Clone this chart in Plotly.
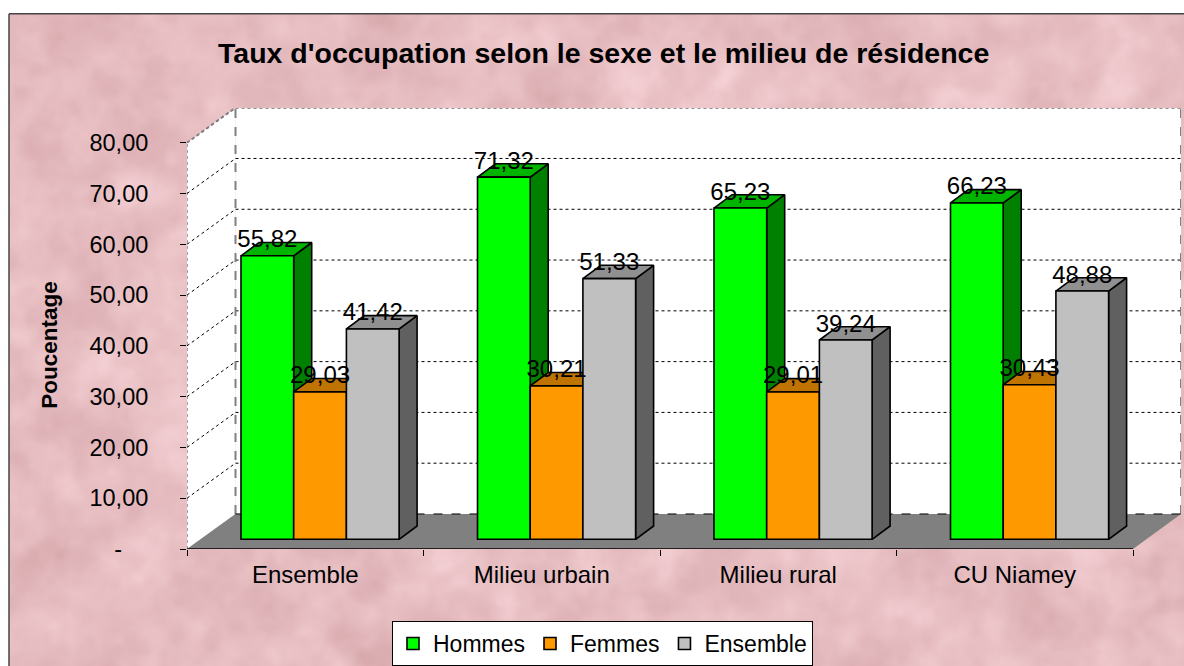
import base64, struct, zlib
import numpy as np
import plotly.graph_objects as go

CATEGORIES = ["Ensemble", "Milieu urbain", "Milieu rural", "CU Niamey"]
SERIES = ["Hommes", "Femmes", "Ensemble"]
HOMMES = [55.82, 71.32, 65.23, 66.23]
FEMMES = [29.03, 30.21, 29.01, 30.43]
ENSEMBLE = [41.42, 51.33, 39.24, 48.88]
Y_TICKS = [0, 10, 20, 30, 40, 50, 60, 70, 80]
Y_LABELS = ["-\u00a0\u00a0\u00a0\u00a0", "10,00", "20,00", "30,00", "40,00", "50,00", "60,00", "70,00", "80,00"]
FRONT = ["#00ff00", "#ff9900", "#c0c0c0"]
TOP = ["#00b400", "#bf7300", "#909090"]
SIDE = ["#008000", "#804d00", "#606060"]

# layout in pixels of the 1184x666 picture
W, H = 1184, 666
PL, PR, PT, PB = 187, 1181, 108.3, 549
CAT_PX, UNIT_PX = 236.5, 5.075
XMIN, XMAX = -0.5, -0.5 + (PR - PL) / CAT_PX
YMAX = (PB - PT) / UNIT_PX
WALL_DX, WALL_DY = 48.5 / CAT_PX, 35 / UNIT_PX
BAR_W = 52.7 / CAT_PX
BAR_START = 54 / CAT_PX
BASE = 9.7 / UNIT_PX
DEPTH_X, DEPTH_Y = 18 / CAT_PX, 13.3 / UNIT_PX
FONT = "Liberation Sans, Arial, sans-serif"


def px(x):
    return (x - PL) / (PR - PL)


def py(y):
    return (PB - y) / (PB - PT)


def texture_uri(w, h):
    """Decorative mottled paper background (not chart data): a hash field smoothed in the frequency domain."""
    yy, xx = np.mgrid[0:h, 0:w].astype(float)
    grain = np.modf(np.abs(np.sin(xx * 12.9898 + yy * 78.233 + xx * yy * 0.3713)) * 43758.5453)[0]
    spec = np.fft.fft2(grain - grain.mean())
    fy = np.fft.fftfreq(h)[:, None]
    fx = np.fft.fftfreq(w)[None, :]
    t = np.zeros((h, w))
    for sigma, weight in ((1.5, 0.35), (4.0, 0.7), (10.0, 0.8)):
        g = np.fft.ifft2(spec * np.exp(-2 * (np.pi * sigma) ** 2 * (fx ** 2 + fy ** 2))).real
        t += weight * g / g.std()
    t /= t.std()
    rgb = np.stack([231 + 4 * t, 190 + 5.5 * t, 194 + 5.5 * t], axis=-1).clip(0, 255).astype(np.uint8)
    raw = b"".join(b"\x00" + rgb[i].tobytes() for i in range(h))

    def chunk(tag, data):
        c = struct.pack(">I", len(data)) + tag + data
        return c + struct.pack(">I", zlib.crc32(tag + data) & 0xffffffff)

    png = b"\x89PNG\r\n\x1a\n" + chunk(b"IHDR", struct.pack(">IIBBBBB", w, h, 8, 2, 0, 0, 0)) \
        + chunk(b"IDAT", zlib.compress(raw, 9)) + chunk(b"IEND", b"")
    return "data:image/png;base64," + base64.b64encode(png).decode()


fig = go.Figure()
shapes = []


def poly(xs, ys, fill, line=None):
    path = "M" + " L".join(f"{x},{y}" for x, y in zip(xs, ys)) + " Z"
    shapes.append(dict(type="path", path=path, xref="x", yref="y", fillcolor=fill,
                       line=dict(width=0) if line is None else line, layer="below"))


def seg(x0, y0, x1, y1, color, width, dash):
    shapes.append(dict(type="line", x0=x0, y0=y0, x1=x1, y1=y1, xref="x", yref="y",
                       line=dict(color=color, width=width, dash=dash), layer="below"))


XEND = XMIN + len(CATEGORIES)
poly([XMIN + WALL_DX, XMAX, XMAX, XMIN + WALL_DX], [WALL_DY, WALL_DY, YMAX, YMAX], "#ffffff")
poly([XMIN, XMIN + WALL_DX, XMIN + WALL_DX, XMIN], [0, WALL_DY, YMAX, 80], "#ffffff")
poly([XMIN, XEND, XMAX, XMIN + WALL_DX], [0, 0, WALL_DY, WALL_DY], "#808080")
for v in Y_TICKS[1:]:
    seg(XMIN, v, XMIN + WALL_DX, v + WALL_DY, "#000000", 1, "dot")
    seg(XMIN + WALL_DX, v + WALL_DY, XMAX, v + WALL_DY, "#000000", 1, "dot")
seg(XMIN + WALL_DX, 80 + WALL_DY, XMAX, 80 + WALL_DY, "#808080", 2, "dot")
seg(XMIN, 80, XMIN + WALL_DX, 80 + WALL_DY, "#808080", 2, "dot")
seg(XMIN + WALL_DX, WALL_DY, XMIN + WALL_DX, YMAX, "#808080", 2, "dash")
seg(XMAX, WALL_DY, XMAX, YMAX, "#808080", 2, "dash")
seg(XMIN + WALL_DX, WALL_DY, XMAX, WALL_DY, "#000000", 1, "dash")
seg(XMIN, 0, XMIN, 80, "#444444", 1, "dot")
seg(XMIN, 0, XEND, 0, "#000000", 1.5, "solid")

ALL = [HOMMES, FEMMES, ENSEMBLE]
for s, (name, vals) in enumerate(zip(SERIES, ALL)):
    lefts = [XMIN + i + BAR_START + s * BAR_W for i in range(len(vals))]
    sx, sy, tx, ty = [], [], [], []
    for l, v in zip(lefts, vals):
        r = l + BAR_W
        top = BASE + v
        sx += [r, r + DEPTH_X, r + DEPTH_X, r, r, None]
        sy += [BASE, BASE + DEPTH_Y, top + DEPTH_Y, top, BASE, None]
        tx += [l, l + DEPTH_X, r + DEPTH_X, r, l, None]
        ty += [top, top + DEPTH_Y, top + DEPTH_Y, top, top, None]
    edge = dict(color="#000000", width=1.6)
    fig.add_trace(go.Scatter(x=sx, y=sy, mode="lines", fill="toself", fillcolor=SIDE[s], line=edge,
                             showlegend=False, hoverinfo="skip", zorder=2 * s + 1))
    fig.add_trace(go.Scatter(x=tx, y=ty, mode="lines", fill="toself", fillcolor=TOP[s], line=edge,
                             showlegend=False, hoverinfo="skip", zorder=2 * s + 1))
    fig.add_trace(go.Bar(x=[l + BAR_W / 2 for l in lefts], y=vals, base=BASE, width=BAR_W, name=name,
                         marker=dict(color=FRONT[s], line=dict(color="#000000", width=1.6)),
                         zorder=2 * s + 2))
for s, vals in enumerate(ALL):
    lefts = [XMIN + i + BAR_START + s * BAR_W for i in range(len(vals))]
    fig.add_trace(go.Scatter(x=[l + BAR_W / 2 for l in lefts], y=[BASE + v + 14.5 / UNIT_PX for v in vals],
                             mode="text", text=[f"{v:.2f}".replace(".", ",") for v in vals],
                             textposition="middle center", textfont=dict(family=FONT, size=24, color="#000000"),
                             showlegend=False, hoverinfo="skip", cliponaxis=False, zorder=10))

# outer frame
shapes.append(dict(type="line", xref="paper", yref="paper", x0=px(9), x1=px(1184), y0=py(14), y1=py(14),
                   line=dict(color="#444444", width=1.5), layer="below"))
shapes.append(dict(type="line", xref="paper", yref="paper", x0=px(9), x1=px(9), y0=py(14), y1=py(666),
                   line=dict(color="#444444", width=1.5), layer="below"))

fig.update_layout(
    width=W, height=H, autosize=False, barmode="overlay",
    margin=dict(l=PL, r=W - PR, t=PT, b=H - PB, pad=0),
    paper_bgcolor="#ffffff", plot_bgcolor="rgba(0,0,0,0)",
    font=dict(family=FONT, size=22, color="#000000"),
    xaxis=dict(range=[XMIN, XMAX], tickmode="array", tickvals=list(range(len(CATEGORIES))), ticktext=CATEGORIES,
               ticks="", showgrid=False, zeroline=False, showline=False, ticklabelstandoff=9,
               minor=dict(tickmode="array", tickvals=[XMIN + i for i in range(len(CATEGORIES) + 1)], ticks="outside",
                          ticklen=6, tickcolor="#000000", tickwidth=1, showgrid=False),
               tickfont=dict(family=FONT, size=24)),
    yaxis=dict(range=[0, YMAX], tickmode="array", tickvals=Y_TICKS, ticktext=Y_LABELS, ticks="outside", ticklen=6,
               tickcolor="#000000", tickwidth=1, showgrid=False, zeroline=False, showline=False,
               ticklabelstandoff=27, tickfont=dict(family=FONT, size=23.5)),
    legend=dict(orientation="h", xref="container", yref="container", x=392 / W, xanchor="left", y=1 - 621 / H,
                yanchor="top", bgcolor="#ffffff", bordercolor="#000000", borderwidth=1,
                font=dict(family=FONT, size=23), traceorder="normal"),
    images=[dict(source=texture_uri(588, 326), xref="paper", yref="paper", x=px(9), y=py(14), sizex=px(1184) - px(9),
                 sizey=py(14) - py(666), xanchor="left", yanchor="top", sizing="stretch", layer="below")],
    shapes=shapes,
    annotations=[
        dict(text="<b>Taux d'occupation selon le sexe et le milieu de résidence</b>", xref="paper", yref="paper",
             x=px(603), y=py(53), xanchor="center", yanchor="middle", showarrow=False,
             font=dict(family=FONT, size=28.5, color="#000000")),
        dict(text="<b>Poucentage</b>", xref="paper", yref="paper", x=px(50), y=py(345), xanchor="center",
             yanchor="middle", textangle=-90, showarrow=False, font=dict(family=FONT, size=22.5, color="#000000")),
    ],
)
fig.write_html("out.html", config={"displayModeBar": False}, post_script="document.body.style.margin='0';")
